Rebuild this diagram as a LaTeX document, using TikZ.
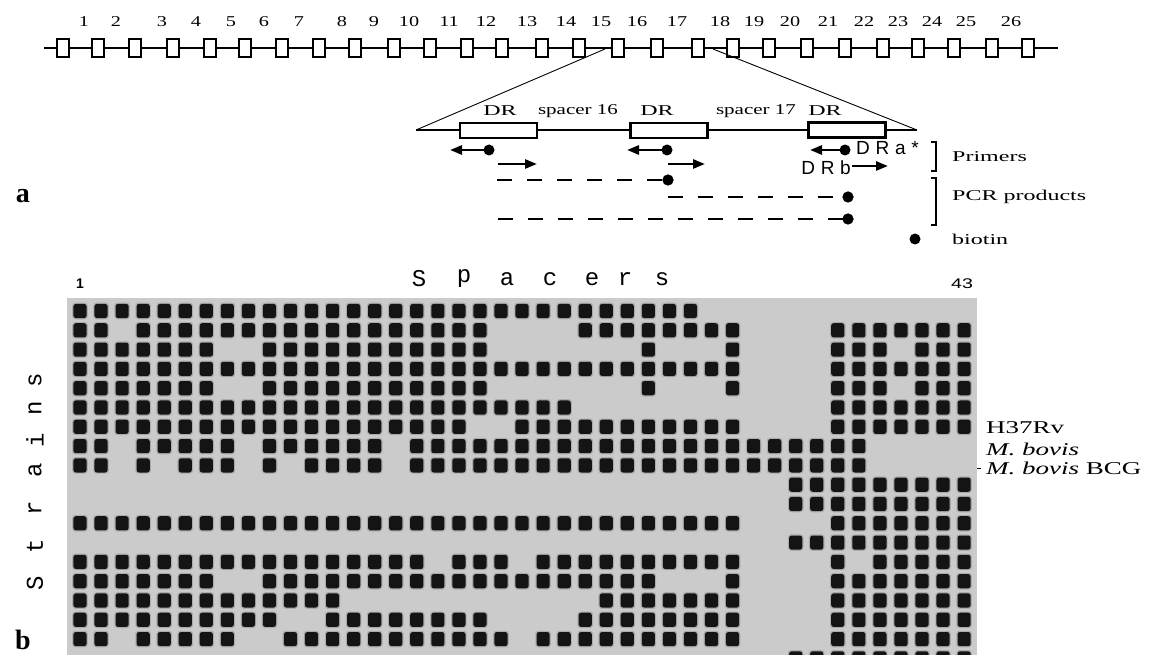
\documentclass[tikz,border=0pt]{standalone}
\usepackage{fontspec}
\usepackage{graphicx}
\setmainfont{Liberation Serif}
\newfontfamily\sfw[LetterSpace=30]{Liberation Sans}
\newfontfamily\sfn{Liberation Sans}
\newfontfamily\monof{Liberation Mono}
\usetikzlibrary{arrows.meta}
\definecolor{blot}{RGB}{203,203,203}
\newcommand{\Wd}[2]{\scalebox{#1}[1]{#2}}
\newcommand{\blotrow}[2]{%
  \foreach \ca/\cb in {#2}{%
    \foreach \cc in {\ca,...,\cb}{%
      \pgfmathsetmacro\xx{80+21.05*(\cc-1)}%
      \pgfmathsetmacro\yy{311+19.3*(#1-1)}%
      \fill[black, opacity=.15, rounded corners=3pt] (\xx-7.8,\yy-8.3) rectangle (\xx+7.8,\yy+8.3);
      \fill[black!92, rounded corners=2.5pt] (\xx-6.6,\yy-7.1) rectangle (\xx+6.6,\yy+7.1);
    }}}
\tikzset{
  dbox/.style={draw, line width=2.6pt, fill=white, minimum width=12pt, minimum height=18pt, inner sep=0pt},
  num/.style={font=\fontsize{15}{15}\selectfont, inner sep=0pt},
  drbox/.style={draw, line width=2.8pt, fill=white, minimum width=77pt, minimum height=15pt, inner sep=0pt},
  lab/.style={font=\fontsize{15}{15}\selectfont, inner sep=0pt},
  bio/.style={circle, fill=black, minimum size=11pt, inner sep=0pt},
  primer/.style={line width=2.6pt, -{Triangle[length=12pt,width=9pt]}},
  pcr/.style={line width=2.6pt, dash pattern=on 15pt off 15pt},
  brk/.style={line width=1.5pt},
  side/.style={font=\fontsize{15}{15}\selectfont, inner sep=0pt, anchor=west},
  strain/.style={font=\fontsize{18}{18}\selectfont, inner sep=0pt, anchor=west},
  sp/.style={font=\monof\fontsize{24}{24}\selectfont, inner sep=0pt},
}
\begin{document}
\begin{tikzpicture}[x=1pt,y=-1pt]
\useasboundingbox (0,0) rectangle (1152,655);
\fill[white] (0,0) rectangle (1152,655);

% ---- panel a: spacer array ----
\coordinate (L0) at (44,48);
\coordinate (L1) at (1058,48);
\draw[line width=2.2pt] (L0) -- (L1);
\foreach \x [count=\i] in {63,98,135,173,210,245,282,319,355,394,430,467,502,542,579,618,657,698,733,769,807,845,883,918,954,992,1028}
  \node[dbox] (b\i) at (\x,48) {};
\foreach \x/\n in {84/1,116/2,162/3,196/4,231/5,264/6,299/7,342/8,374/9,409/10,449/11,486/12,527/13,566/14,601/15,637/16,677/17,720/18,754/19,790/20,828/21,864/22,898/23,932/24,966/25,1011/26}
  \node[num] (n\n) at (\x,22) {\Wd{1.35}{\n}};

% ---- expanded region ----
\coordinate (tl) at (605,49);
\coordinate (tr) at (713,49);
\coordinate (cl) at (416,130);
\coordinate (cr) at (917,130);
\draw[line width=0.9pt] (tl) -- (cl);
\draw[line width=0.9pt] (tr) -- (cr);
\draw[line width=2.5pt] (cl) -- (cr);
\node[drbox] (dr1) at (498.5,130.5) {};
\node[drbox] (dr2) at (669,130.5) {};
\node[drbox] (dr3) at (847,130) {};
\node[lab] (t1) at (500,111) {\Wd{1.6}{DR}};
\node[lab] (t2) at (578,111) {\Wd{1.4}{spacer 16}};
\node[lab] (t3) at (657,111) {\Wd{1.6}{DR}};
\node[lab] (t4) at (756,111) {\Wd{1.4}{spacer 17}};
\node[lab] (t5) at (825,111) {\Wd{1.6}{DR}};

% primers DRa (with biotin)
\node[bio] (p1) at (489,150) {};
\node[bio] (p2) at (667,150) {};
\node[bio] (p3) at (845,150) {};
\coordinate (a1) at (450,150);
\coordinate (a2) at (627,150);
\coordinate (a3) at (810,150);
\draw[primer] (p1.center) -- (a1);
\draw[primer] (p2.center) -- (a2);
\draw[primer] (p3.center) -- (a3);
\node[anchor=west, inner sep=0pt, font=\sfw\fontsize{19}{19}\selectfont] (dra) at (856,148) {DRa*};
% primers DRb
\coordinate (b1s) at (498,164); \coordinate (b1e) at (537,164);
\coordinate (b2s) at (668,164); \coordinate (b2e) at (705,164);
\coordinate (b3s) at (852,166); \coordinate (b3e) at (888,166);
\draw[primer] (b1s) -- (b1e);
\draw[primer] (b2s) -- (b2e);
\draw[primer] (b3s) -- (b3e);
\node[anchor=east, inner sep=0pt, font=\sfw\fontsize{19}{19}\selectfont] (drb) at (851,168) {DRb};

% PCR products
\coordinate (d1s) at (497,180); \node[bio] (d1e) at (668,180) {};
\coordinate (d2s) at (668,197); \node[bio] (d2e) at (848,197) {};
\coordinate (d3s) at (498,219); \node[bio] (d3e) at (848,219) {};
\draw[pcr] (d1s) -- (d1e.center);
\draw[pcr] (d2s) -- (d2e.center);
\draw[pcr] (d3s) -- (d3e.center);
\node[bio] at (d1e) {};
\node[bio] at (d2e) {};
\node[bio] at (d3e) {};

% brackets and legend
\draw[brk] (931,142) -- (936,142) -- (936,171) -- (931,171);
\draw[brk] (931,178) -- (936,178) -- (936,225) -- (931,225);
\node[side] (prm) at (952,157) {\Wd{1.6}{Primers}};
\node[side] (pcrl) at (952,197) {\Wd{1.6}{PCR products}};
\node[bio] (bl) at (915,239) {};
\node[side] (biol) at (952,239) {\Wd{1.6}{biotin}};

\node[font=\bfseries\fontsize{28}{28}\selectfont, inner sep=0pt] (la) at (23,196) {a};
\node[font=\bfseries\fontsize{28}{28}\selectfont, inner sep=0pt] (lb) at (23,640) {b};

% ---- panel b: blot ----
\fill[blot] (67,298) rectangle (977,655);
\begin{scope}
\clip (67,298) rectangle (977,655);
\blotrow{1}{1/30}
\blotrow{2}{1/2,4/20,25/32,37/43}
\blotrow{3}{1/7,10/20,28/28,32/32,37/39,41/43}
\blotrow{4}{1/32,37/43}
\blotrow{5}{1/7,10/20,28/28,32/32,37/39,41/43}
\blotrow{6}{1/24,37/43}
\blotrow{7}{1/19,22/32,37/43}
\blotrow{8}{1/2,4/8,10/15,17/38}
\blotrow{9}{1/2,4/4,6/8,10/10,12/15,17/38}
\blotrow{10}{35/43}
\blotrow{11}{35/43}
\blotrow{12}{1/32,37/43}
\blotrow{13}{35/43}
\blotrow{14}{1/17,19/21,23/32,37/37,39/43}
\blotrow{15}{1/7,10/28,32/32,37/43}
\blotrow{16}{1/13,26/32,37/43}
\blotrow{17}{1/10,13/20,25/32,37/43}
\blotrow{18}{1/2,4/8,11/21,23/32,37/43}
\blotrow{19}{35/43}
\end{scope}

\node[font=\sfn\bfseries\fontsize{14}{14}\selectfont, inner sep=0pt] (c1) at (80,284) {1};
\node[font=\sfn\fontsize{14}{14}\selectfont, inner sep=0pt] (c43) at (962,284) {\Wd{1.4}{43}};
\foreach \x/\ch [count=\i] in {419/S,464/p,507/a,550/c,592/e,625/r,662/s}
  \node[sp] (s\i) at (\x,279) {\ch};
\foreach \y/\ch [count=\i] in {583/S,546/t,508/r,470/a,440/i,408/n,380/s}
  \node[sp, rotate=90] (st\i) at (35,\y) {\ch};

\node[strain] (h37) at (986,428) {\Wd{1.5}{H37Rv}};
\node[strain] (mb) at (986,449) {\Wd{1.5}{\textit{M. bovis}}};
\node[strain] (bcg) at (986,468) {\Wd{1.5}{\textit{M. bovis} BCG}};
\draw[line width=0.8pt] (977,468) -- (981,468);
\end{tikzpicture}
\end{document}
